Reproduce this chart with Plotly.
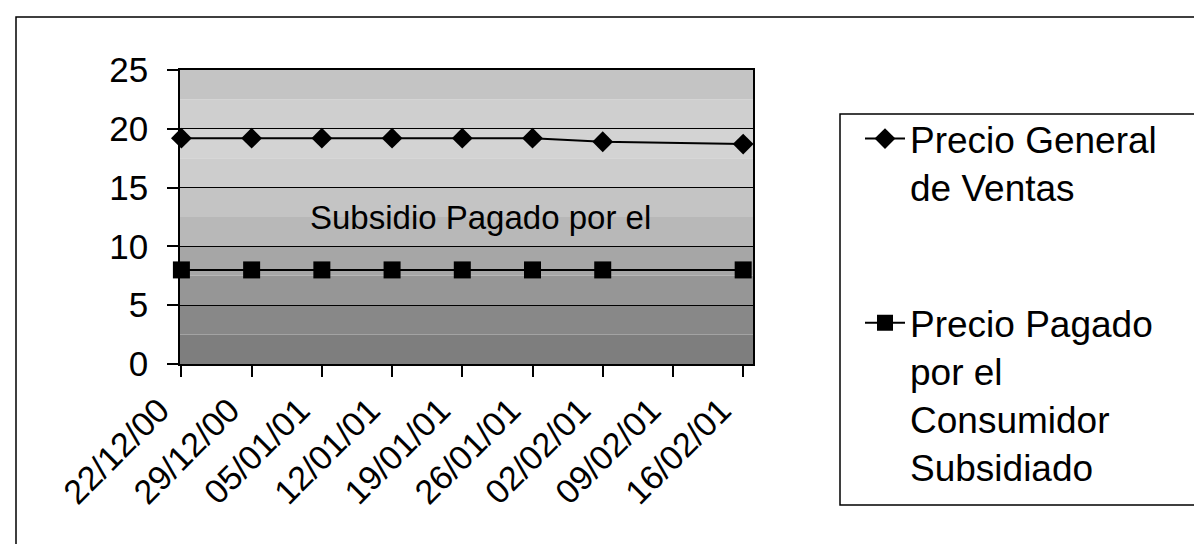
import plotly.graph_objects as go

# ---- data ----
categories = ["22/12/00", "29/12/00", "05/01/01", "12/01/01", "19/01/01",
              "26/01/01", "02/02/01", "09/02/01", "16/02/01"]
fechas_datos = ["22/12/00", "29/12/00", "05/01/01", "12/01/01", "19/01/01",
                "26/01/01", "02/02/01", "16/02/01"]
precio_general = [19.2, 19.2, 19.2, 19.2, 19.2, 19.2, 18.9, 18.7]
precio_subsidiado = [8.0, 8.0, 8.0, 8.0, 8.0, 8.0, 8.0, 8.0]
y_ticks = [0, 5, 10, 15, 20, 25]
nombre_general = "Precio General<br>de Ventas"
nombre_subsidiado = "Precio Pagado<br>por el<br>Consumidor<br>Subsidiado"
etiqueta_subsidio = "Subsidio Pagado por el"

W, H = 1202, 544
FONT = "Liberation Sans, Arial, sans-serif"

def px_x(p):
    return p / W

def px_y(p):
    return 1 - p / H

fig = go.Figure()
fig.add_trace(go.Scatter(
    x=fechas_datos, y=precio_general, name=nombre_general, mode="lines+markers",
    line=dict(color="black", width=2),
    marker=dict(symbol="diamond", size=16, color="black"),
    cliponaxis=False, legendgroup="g1",
))
fig.add_trace(go.Scatter(
    x=fechas_datos, y=precio_subsidiado, name=nombre_subsidiado, mode="lines+markers",
    line=dict(color="black", width=2),
    marker=dict(symbol="square", size=17, color="black"),
    cliponaxis=False, legendgroup="g2",
))

# background gradient of plot area (dithered grey in the original)
bands = [(0, 2.5, "#7e7e7e"), (2.5, 5, "#888888"), (5, 7.5, "#969696"),
         (7.5, 10, "#a6a6a6"), (10, 12.5, "#b8b8b8"), (12.5, 15, "#c4c4c4"),
         (15, 17.5, "#cdcdcd"), (17.5, 20, "#d3d3d3"), (20, 22.5, "#cfcfcf"),
         (22.5, 25, "#c4c4c4")]
shapes = []
for y0, y1, c in bands:
    shapes.append(dict(type="rect", xref="x domain", yref="y", x0=0, x1=1,
                       y0=y0, y1=y1, fillcolor=c, line=dict(width=0), layer="below"))
# outer chart frame
shapes.append(dict(type="rect", xref="paper", yref="paper",
                   x0=px_x(8), x1=px_x(1200), y0=-0.05, y1=px_y(9),
                   line=dict(color="black", width=1.5), fillcolor="rgba(0,0,0,0)"))
# legend frame
shapes.append(dict(type="rect", xref="paper", yref="paper",
                   x0=px_x(832), x1=px_x(1201), y0=px_y(497), y1=px_y(106),
                   line=dict(color="black", width=1.5), fillcolor="rgba(0,0,0,0)"))

fig.update_layout(
    width=W, height=H,
    margin=dict(l=0, r=0, t=0, b=0),
    paper_bgcolor="white", plot_bgcolor="rgba(0,0,0,0)",
    font=dict(family=FONT, color="black"),
    shapes=shapes,
    showlegend=True,
    legend=dict(x=px_x(852), y=px_y(100), xanchor="left", yanchor="top",
                font=dict(size=37, family=FONT, color="black"),
                bgcolor="rgba(0,0,0,0)", borderwidth=0,
                valign="top", tracegroupgap=85, itemwidth=40),
    xaxis=dict(
        domain=[px_x(172), px_x(745)],
        type="category", categoryorder="array", categoryarray=categories,
        tickvals=categories, ticktext=categories,
        range=[-0.02, 8.14],
        showline=True, linecolor="black", linewidth=1.5, mirror=True,
        ticks="outside", ticklen=11, tickcolor="black", tickwidth=1.5,
        tickangle=-45, tickfont=dict(size=34, family=FONT, color="black"),
        ticklabelstandoff=0, ticklabelshift=-22,
        showgrid=False, zeroline=False, automargin=False,
    ),
    yaxis=dict(
        domain=[1 - 356 / H, 1 - 62 / H],
        range=[0, 25], tickvals=y_ticks,
        showline=True, linecolor="black", linewidth=1.5, mirror=True,
        ticks="outside", ticklen=11, tickcolor="black", tickwidth=1.5,
        tickfont=dict(size=35, family=FONT, color="black"),
        ticklabelstandoff=12,
        showgrid=True, gridcolor="black", gridwidth=1.3,
        zeroline=False, automargin=False,
    ),
    annotations=[dict(
        x=0.525, xref="x domain", y=12.5, yref="y", text=etiqueta_subsidio,
        showarrow=False, font=dict(size=33, family=FONT, color="black"),
        xanchor="center", yanchor="middle",
    )],
)

fig.write_html("out.html")
